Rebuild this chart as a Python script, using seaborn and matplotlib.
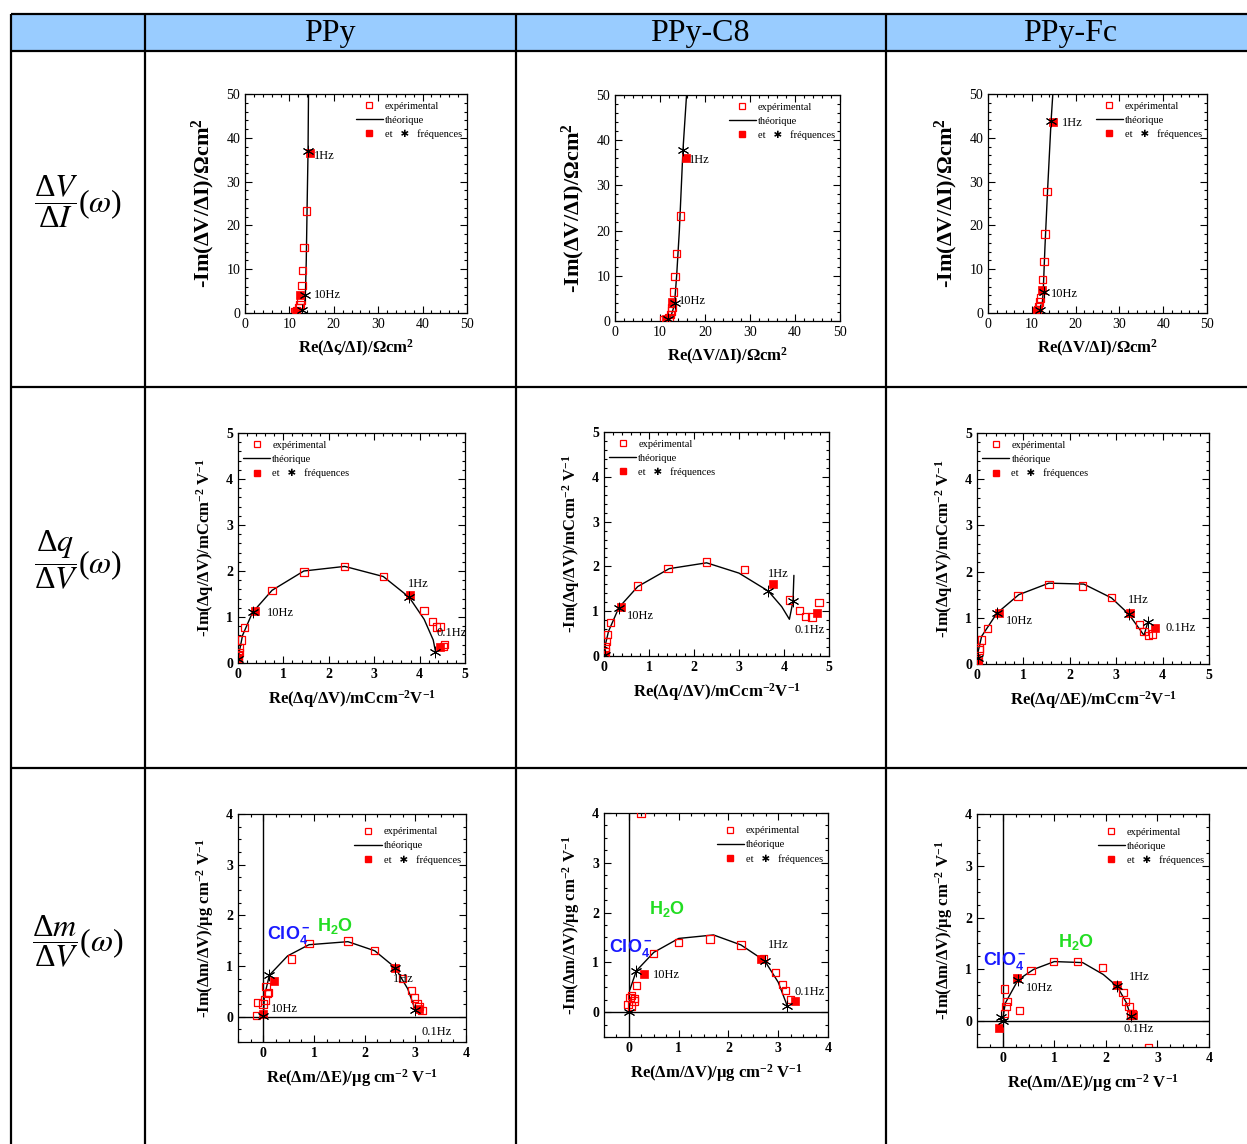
""" Impedance / charge / mass transfer functions of PPy films, drawn as a table. """
import numpy as np
import seaborn as sns
import matplotlib.pyplot as plt
from matplotlib.lines import Line2D
from matplotlib.patches import Rectangle
from matplotlib.ticker import MultipleLocator

sns.set_theme(style="ticks")
plt.rcParams['font.family'] = ['Liberation Serif', 'DejaVu Sans']
plt.rcParams['mathtext.default'] = 'regular'
plt.rcParams['axes.edgecolor'] = 'black'
plt.rcParams['xtick.color'] = 'black'
plt.rcParams['ytick.color'] = 'black'
plt.rcParams['text.color'] = 'black'
plt.rcParams['axes.labelcolor'] = 'black'

W, H = 1247, 1144

column_titles = ["PPy", "PPy-C8", "PPy-Fc"]
row_titles = [r"$\dfrac{\Delta \mathit{V}}{\Delta \mathit{I}}(\mathit{\omega})$",
              r"$\dfrac{\Delta \mathit{q}}{\Delta \mathit{V}}(\mathit{\omega})$",
              r"$\dfrac{\Delta \mathit{m}}{\Delta \mathit{V}}(\mathit{\omega})$"]

# ---- dV/dI (ohm cm2) ----
vi_ppy_exp = [(11.2, 0.2), (11.6, 0.5), (12.2, 1.2), (12.4, 2.0), (12.6, 2.8), (12.8, 6.3),
              (13.0, 9.7), (13.3, 15.0), (13.8, 23.3)]
vi_ppy_fill = [(11.4, 0.3), (12.4, 4.2), (14.6, 36.6)]
vi_ppy_star = [(12.8, 0.6), (13.6, 4.0), (14.2, 37.0)]
vi_ppy_theo = [(12.2, 0.0), (13.0, 0.6), (13.4, 2.0), (13.6, 4.0), (13.8, 12.0), (14.0, 25.0),
               (14.2, 37.0), (14.3, 50.0)]

vi_c8_exp = [(10.8, 0.3), (12.0, 0.8), (12.3, 1.5), (12.5, 2.2), (12.7, 3.0), (13.0, 6.4),
             (13.3, 9.8), (13.7, 15.0), (14.5, 23.2)]
vi_c8_fill = [(11.4, 0.5), (12.6, 4.3), (15.7, 36.0)]
vi_c8_star = [(11.8, 0.5), (13.4, 4.0), (15.1, 37.8)]
vi_c8_theo = [(11.0, 0.0), (12.4, 1.0), (13.2, 3.5), (13.7, 10.0), (14.3, 20.0), (15.1, 37.8),
              (15.9, 50.0)]

vi_fc_exp = [(11.0, 0.3), (11.3, 0.8), (11.6, 1.5), (11.8, 2.5), (12.0, 3.4), (12.4, 7.7),
             (12.8, 11.7), (13.0, 18.0), (13.5, 27.8)]
vi_fc_fill = [(11.2, 0.5), (12.3, 5.2), (14.8, 43.5)]
vi_fc_star = [(11.8, 0.7), (12.7, 4.8), (14.4, 43.8)]
vi_fc_theo = [(11.6, 0.0), (12.3, 1.0), (12.6, 4.8), (13.0, 15.0), (13.6, 28.0), (14.4, 43.8),
              (14.8, 50.0)]

# ---- dq/dV (mC cm-2 V-1) ----
qv_ppy_exp = [(0.0, 0.05), (0.0, 0.15), (0.02, 0.23), (0.03, 0.33), (0.07, 0.5), (0.15, 0.77),
              (0.75, 1.58), (1.45, 1.98), (2.35, 2.1), (3.2, 1.88), (4.1, 1.14), (4.28, 0.9),
              (4.37, 0.78), (4.45, 0.8), (4.52, 0.36), (4.55, 0.4)]
qv_ppy_fill = [(0.0, 0.1), (0.37, 1.13), (3.78, 1.48), (4.45, 0.35)]
qv_ppy_star = [(0.0, 0.08), (0.32, 1.1), (3.77, 1.43), (4.35, 0.25)]
qv_ppy_theo = [(0.0, 0.0), (0.02, 0.2), (0.1, 0.6), (0.32, 1.1), (0.75, 1.58), (1.45, 2.0),
               (2.35, 2.1), (3.2, 1.88), (3.77, 1.43), (4.1, 0.95), (4.3, 0.5), (4.35, 0.25)]

qv_c8_exp = [(0.02, 0.1), (0.04, 0.2), (0.05, 0.32), (0.08, 0.48), (0.15, 0.75), (0.75, 1.56),
             (1.42, 1.95), (2.28, 2.1), (3.12, 1.93), (4.12, 1.25), (4.35, 1.02), (4.48, 0.88),
             (4.62, 0.87), (4.78, 1.2)]
qv_c8_fill = [(0.02, 0.02), (0.37, 1.1), (3.75, 1.6), (4.73, 0.96)]
qv_c8_star = [(0.02, 0.02), (0.33, 1.08), (3.65, 1.45), (4.2, 1.22)]
qv_c8_theo = [(0.0, 0.0), (0.03, 0.25), (0.1, 0.55), (0.33, 1.08), (0.75, 1.55), (1.45, 1.95),
              (2.28, 2.08), (3.0, 1.85), (3.65, 1.45), (3.95, 1.1), (4.12, 0.82), (4.2, 1.22),
              (4.22, 1.8)]

qv_fc_exp = [(0.02, 0.1), (0.04, 0.3), (0.05, 0.35), (0.1, 0.52), (0.22, 0.77), (0.88, 1.47),
             (1.55, 1.72), (2.28, 1.69), (2.9, 1.44), (3.5, 0.85), (3.6, 0.7), (3.7, 0.62),
             (3.78, 0.65)]
qv_fc_fill = [(0.02, 0.05), (0.47, 1.1), (3.3, 1.1), (3.84, 0.78)]
qv_fc_star = [(0.02, 0.12), (0.43, 1.1), (3.27, 1.08), (3.68, 0.9)]
qv_fc_theo = [(0.0, 0.0), (0.02, 0.25), (0.1, 0.6), (0.43, 1.1), (0.9, 1.5), (1.55, 1.75),
              (2.3, 1.73), (2.9, 1.43), (3.27, 1.08), (3.6, 0.62), (3.68, 0.9)]

# ---- dm/dV (ug cm-2 V-1) ----
mv_ppy_exp = [(-0.13, 0.02), (-0.12, 0.28), (-0.01, 0.25), (0.03, 0.33), (0.05, 0.6), (0.08, 0.46),
              (0.1, 0.48), (0.55, 1.14), (0.9, 1.45), (1.67, 1.49), (2.2, 1.31), (2.75, 0.75),
              (2.92, 0.52), (2.98, 0.37), (3.03, 0.25), (3.07, 0.2), (3.13, 0.12)]
mv_ppy_fill = [(-0.01, 0.05), (0.22, 0.71), (2.6, 0.97), (3.07, 0.15)]
mv_ppy_star = [(-0.01, 0.02), (0.12, 0.82), (2.6, 0.97), (3.0, 0.13)]
mv_ppy_theo = [(0.0, 0.0), (0.02, 0.4), (0.12, 0.82), (0.48, 1.2), (0.9, 1.42), (1.67, 1.48),
               (2.2, 1.3), (2.6, 0.97), (2.85, 0.55), (3.0, 0.13)]

mv_c8_exp = [(0.24, 4.0), (-0.02, 0.15), (0.02, 0.3), (0.05, 0.33), (0.05, 0.12), (0.1, 0.22),
             (0.11, 0.27), (0.15, 0.53), (0.5, 1.18), (1.0, 1.4), (1.63, 1.47), (2.25, 1.35),
             (2.7, 1.08), (2.95, 0.8), (3.08, 0.56), (3.15, 0.43), (3.25, 0.25)]
mv_c8_fill = [(0.3, 0.77), (2.65, 1.07), (3.33, 0.22)]
mv_c8_star = [(0.0, 0.0), (0.15, 0.83), (2.73, 1.03), (3.18, 0.13)]
mv_c8_theo = [(0.02, 0.45), (0.15, 0.83), (0.5, 1.2), (1.0, 1.48), (1.7, 1.55), (2.25, 1.35),
              (2.73, 1.03), (3.0, 0.6), (3.18, 0.13)]

mv_fc_exp = [(2.83, -0.52), (0.03, 0.62), (0.08, 0.38), (0.06, 0.28), (0.03, 0.15), (0.33, 0.2),
             (0.55, 0.98), (0.98, 1.15), (1.45, 1.15), (1.93, 1.03), (2.33, 0.55), (2.38, 0.38),
             (2.45, 0.28), (2.52, 0.15), (2.48, 0.12)]
mv_fc_fill = [(-0.07, -0.13), (0.27, 0.83), (2.22, 0.7), (2.52, 0.12)]
mv_fc_star = [(-0.03, 0.07), (0.0, 0.0), (0.3, 0.8), (2.22, 0.67), (2.48, 0.1)]
mv_fc_theo = [(0.0, 0.05), (0.05, 0.35), (0.3, 0.8), (0.6, 1.0), (1.0, 1.15), (1.55, 1.13),
              (1.95, 0.9), (2.22, 0.67), (2.4, 0.35), (2.48, 0.1)]

# frequency annotations (text, x, y)
vi_ppy_hz = [("1Hz", 15.6, 35.9), ("10Hz", 15.6, 4.0)]
vi_c8_hz = [("1Hz", 16.5, 35.7), ("10Hz", 14.1, 4.4)]
vi_fc_hz = [("1Hz", 16.8, 43.3), ("10Hz", 14.3, 4.4)]
qv_ppy_hz = [("10Hz", 0.64, 1.09), ("1Hz", 3.75, 1.71), ("0.1Hz", 4.38, 0.66)]
qv_c8_hz = [("10Hz", 0.51, 0.89), ("1Hz", 3.64, 1.83), ("0.1Hz", 4.24, 0.58)]
qv_fc_hz = [("10Hz", 0.63, 0.92), ("1Hz", 3.26, 1.39), ("0.1Hz", 4.07, 0.78)]
mv_ppy_hz = [("10Hz", 0.14, 0.16), ("1Hz", 2.55, 0.75), ("0.1Hz", 3.12, -0.3)]
mv_c8_hz = [("10Hz", 0.49, 0.74), ("1Hz", 2.8, 1.35), ("0.1Hz", 3.33, 0.41)]
mv_fc_hz = [("10Hz", 0.45, 0.63), ("1Hz", 2.44, 0.85), ("0.1Hz", 2.35, -0.16)]

# ion labels (ClO4- position, H2O position)
mv_ppy_ions = [(0.07, 1.54), (1.05, 1.7)]
mv_c8_ions = [(-0.39, 1.21), (0.41, 1.98)]
mv_fc_ions = [(-0.38, 1.08), (1.07, 1.44)]

vi_ylabel = r"-Im(ΔV/ΔI)/Ωcm$^{2}$"
qv_ylabel = r"-Im(Δq/ΔV)/mCcm$^{-2}$ V$^{-1}$"
mv_ylabel = r"-Im(Δm/ΔV)/µg cm$^{-2}$ V$^{-1}$"

panels = [
    # (axes rect in px: left, top, right, bottom), data, labels, kind
    ((245, 94, 467, 313), vi_ppy_exp, vi_ppy_fill, vi_ppy_star, vi_ppy_theo, vi_ppy_hz, None,
     r"Re(Δς/ΔI)/Ωcm$^{2}$", vi_ylabel, "vi"),
    ((615, 95, 840, 321), vi_c8_exp, vi_c8_fill, vi_c8_star, vi_c8_theo, vi_c8_hz, None,
     r"Re(ΔV/ΔI)/Ωcm$^{2}$", vi_ylabel, "vi"),
    ((988, 94, 1207, 313), vi_fc_exp, vi_fc_fill, vi_fc_star, vi_fc_theo, vi_fc_hz, None,
     r"Re(ΔV/ΔI)/Ωcm$^{2}$", vi_ylabel, "vi"),
    ((238, 433, 465, 663), qv_ppy_exp, qv_ppy_fill, qv_ppy_star, qv_ppy_theo, qv_ppy_hz, None,
     r"Re(Δq/ΔV)/mCcm$^{-2}$V$^{-1}$", qv_ylabel, "qv"),
    ((604, 432, 829, 656), qv_c8_exp, qv_c8_fill, qv_c8_star, qv_c8_theo, qv_c8_hz, None,
     r"Re(Δq/ΔV)/mCcm$^{-2}$V$^{-1}$", qv_ylabel, "qv"),
    ((977, 433, 1209, 664), qv_fc_exp, qv_fc_fill, qv_fc_star, qv_fc_theo, qv_fc_hz, None,
     r"Re(Δq/ΔE)/mCcm$^{-2}$V$^{-1}$", qv_ylabel, "qv"),
    ((238, 814, 466, 1042), mv_ppy_exp, mv_ppy_fill, mv_ppy_star, mv_ppy_theo, mv_ppy_hz, mv_ppy_ions,
     r"Re(Δm/ΔE)/µg cm$^{-2}$ V$^{-1}$", mv_ylabel, "mv"),
    ((604, 813, 828, 1037), mv_c8_exp, mv_c8_fill, mv_c8_star, mv_c8_theo, mv_c8_hz, mv_c8_ions,
     r"Re(Δm/ΔV)/µg cm$^{-2}$ V$^{-1}$", mv_ylabel, "mv"),
    ((977, 814, 1209, 1047), mv_fc_exp, mv_fc_fill, mv_fc_star, mv_fc_theo, mv_fc_hz, mv_fc_ions,
     r"Re(Δm/ΔE)/µg cm$^{-2}$ V$^{-1}$", mv_ylabel, "mv"),
]

fig = plt.figure(figsize=(W / 100, H / 100), dpi=100)

# table grid
bg = fig.add_axes([0, 0, 1, 1], zorder=-1)
bg.set_xlim(0, W)
bg.set_ylim(H, 0)
bg.axis('off')
bg.add_patch(Rectangle((11, 14), W - 11, 37, facecolor='#99CCFF', edgecolor='none'))
bg.hlines([14, 51, 387, 768], 11, W, color='black', lw=1.6)
bg.vlines([11, 145, 516, 886], 14, H, color='black', lw=1.6)
for cx, title in zip([330, 700, 1070], column_titles):
    bg.text(cx, 33, title, ha='center', va='center', fontsize=23)
for cy, title in zip([202, 560, 942], row_titles):
    bg.text(78, cy, title, ha='center', va='center', fontsize=23, math_fontfamily='stix')

legend_handles = [
    Line2D([], [], ls='none', marker='s', mfc='none', mec='red', ms=5, mew=0.9),
    Line2D([], [], color='black', lw=1),
    Line2D([], [], ls='none', marker='s', mfc='red', mec='red', ms=5),
]
legend_labels = ['expérimental', 'théorique', 'et   ✱   fréquences']

settings = {
    "vi": dict(xlim=(0, 50), ylim=(0, 50), major=10, minor=2, bold=False, loc='upper right',
               anchor=(1.0, 0.99), ysize=16),
    "qv": dict(xlim=(0, 5), ylim=(0, 5), major=1, minor=0.2, bold=True, loc='upper left',
               anchor=(0.0, 0.99), ysize=12),
    "mv": dict(xlim=(-0.5, 4), ylim=(-0.5, 4), major=1, minor=0.25, bold=True, loc='upper right',
               anchor=(1.0, 0.965), ysize=12),
}

for rect, exp, fill, star, theo, hz, ions, xlabel, ylabel, kind in panels:
    l, t, r, b = rect
    ax = fig.add_axes([l / W, 1 - b / H, (r - l) / W, (b - t) / H])
    cfg = settings[kind]

    if kind == "mv":
        ax.axhline(0, color='black', lw=1, zorder=1)
        ax.axvline(0, color='black', lw=1, zorder=1)

    tx, ty = zip(*theo)
    sns.lineplot(x=list(tx), y=list(ty), sort=False, estimator=None, color='black',
                 lw=1, ax=ax, zorder=2)
    ex, ey = zip(*exp)
    sns.scatterplot(x=list(ex), y=list(ey), marker='s', s=28, facecolor='none',
                    edgecolor='red', color='red', linewidth=0.9, ax=ax, zorder=3)
    fx, fy = zip(*fill)
    sns.scatterplot(x=list(fx), y=list(fy), marker='s', s=34, color='red',
                    edgecolor='red', linewidth=0.5, ax=ax, zorder=4)
    sx, sy = zip(*star)
    sns.scatterplot(x=list(sx), y=list(sy), marker=(6, 2, 0), s=60, color='black',
                    linewidth=0.7, ax=ax, zorder=5)

    for label, hx, hy in hz:
        ax.text(hx, hy, label, fontsize=9, ha='left', va='center')

    if ions is not None:
        (cx, cy), (wx, wy) = ions
        ax.text(cx, cy, r"ClO$_4^-$", color='#1a1aff', fontsize=13, fontweight='bold',
                family=['Liberation Sans', 'DejaVu Sans'], va='baseline')
        ax.text(wx, wy, r"H$_2$O", color='#22dd22', fontsize=13, fontweight='bold',
                family=['Liberation Sans', 'DejaVu Sans'], va='baseline')

    ax.set_xlim(*cfg["xlim"])
    ax.set_ylim(*cfg["ylim"])
    ax.xaxis.set_major_locator(MultipleLocator(cfg["major"]))
    ax.yaxis.set_major_locator(MultipleLocator(cfg["major"]))
    ax.xaxis.set_minor_locator(MultipleLocator(cfg["minor"]))
    ax.yaxis.set_minor_locator(MultipleLocator(cfg["minor"]))
    ax.tick_params(which='both', direction='in', top=True, right=True, width=0.8)
    ax.tick_params(which='major', length=5, labelsize=10, pad=3.5)
    ax.tick_params(which='minor', length=2.5)
    if cfg["bold"]:
        for lab in ax.get_xticklabels() + ax.get_yticklabels():
            lab.set_fontweight('bold')
    for sp in ax.spines.values():
        sp.set_linewidth(0.9)

    ax.set_xlabel(xlabel, fontsize=12, fontweight='bold', labelpad=5)
    ax.set_ylabel(ylabel, fontsize=cfg["ysize"], fontweight='bold', labelpad=7)

    ax.legend(legend_handles, legend_labels, loc=cfg["loc"], bbox_to_anchor=cfg["anchor"],
              frameon=False, fontsize=7.5, handlelength=2.6, handletextpad=0.2,
              labelspacing=0.45, borderaxespad=0.3, borderpad=0.2)

fig.savefig("out.png", dpi=100)
